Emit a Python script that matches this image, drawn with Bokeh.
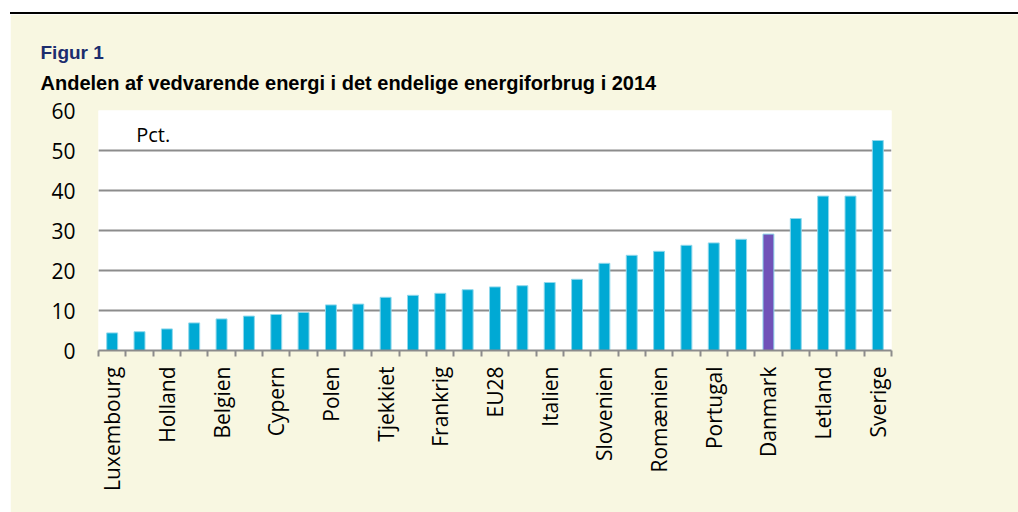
import math
from bokeh.plotting import figure
from bokeh.models import ColumnDataSource, FixedTicker, Label, Title, Div
from bokeh.layouts import column
from bokeh.embed import file_html
from bokeh.resources import INLINE

countries = ["Luxembourg", "Malta", "Holland", "Storbritannien", "Belgien", "Irland",
             "Cypern", "Ungarn", "Polen", "Slovakiet", "Tjekkiet", "Grækenland",
             "Frankrig", "Tyskland", "EU28", "Spanien", "Italien", "Bulgarien",
             "Slovenien", "Litauen", "Romænien", "Kroatien", "Portugal", "Estland",
             "Danmark", "Østrig", "Letland", "Finland", "Sverige"]
values = [4.4, 4.7, 5.4, 6.9, 7.9, 8.6, 9.0, 9.5, 11.4, 11.6, 13.3, 13.8,
          14.3, 15.2, 15.9, 16.2, 17.0, 17.8, 21.8, 23.8, 24.8, 26.3, 26.9,
          27.8, 29.1, 33.0, 38.6, 38.6, 52.5]
labeled = ["Luxembourg", "Holland", "Belgien", "Cypern", "Polen", "Tjekkiet",
           "Frankrig", "EU28", "Italien", "Slovenien", "Romænien", "Portugal",
           "Danmark", "Letland", "Sverige"]
highlight = "Danmark"
y_ticks = [0, 10, 20, 30, 40, 50, 60]

BLUE = "#00A9D4"
PURPLE = "#7052B8"
CREAM = "#F8F7E1"
GRID = "#8C8C8C"

xs = list(range(len(countries)))
colors = [PURPLE if c == highlight else BLUE for c in countries]
src = ColumnDataSource(dict(x=xs, top=values, name=countries, color=colors))

p = figure(width=1008, height=498, output_backend="svg", toolbar_location=None,
           x_range=(-0.5, len(countries) - 0.5), y_range=(0, 60),
           min_border_left=88, min_border_right=127, min_border_top=96,
           min_border_bottom=162)
p.margin = (0, 0, 0, 10)
p.background_fill_color = "white"
p.border_fill_color = CREAM
p.outline_line_color = None

p.vbar(x="x", top="top", width=0.4, bottom=0, source=src, fill_color="color",
       line_color="#8FD8EC", line_width=1)

# axes
xa = p.xaxis[0]
xa.ticker = FixedTicker(ticks=[i for i, c in enumerate(countries) if c in labeled],
                        minor_ticks=[i - 0.5 for i in range(len(countries) + 1)])
xa.major_label_overrides = {i: c for i, c in enumerate(countries) if c in labeled}
xa.major_label_orientation = math.pi / 2
xa.major_tick_line_color = None
xa.minor_tick_line_color = GRID
xa.minor_tick_line_width = 2
xa.minor_tick_out = 6
xa.minor_tick_in = 0
xa.axis_line_color = GRID
xa.axis_line_width = 2
xa.major_label_standoff = 10
xa.major_label_text_font = "Open Sans"
xa.major_label_text_font_size = "21px"
xa.major_label_text_color = "black"

ya = p.yaxis[0]
ya.ticker = FixedTicker(ticks=y_ticks)
ya.axis_line_color = None
ya.major_tick_line_color = None
ya.minor_tick_line_color = None
ya.major_label_standoff = 17
ya.major_label_text_font = "Open Sans"
ya.major_label_text_font_size = "21px"
ya.major_label_text_color = "black"

p.xgrid.grid_line_color = None
p.ygrid.grid_line_color = GRID
p.ygrid.grid_line_width = 2

# unit label
p.add_layout(Label(x=0.88, y=53.9, text="Pct.", text_font="Open Sans",
                   text_font_size="20px", text_baseline="middle", text_color="black"))

# titles (first added sits closest to the frame)
p.add_layout(Title(text="Andelen af vedvarende energi i det endelige energiforbrug i 2014",
                   align="left", offset=-58, standoff=33, text_font="Liberation Sans",
                   text_font_style="bold", text_font_size="20px", text_color="black"),
             "above")
p.add_layout(Title(text="Figur 1", align="left", offset=-58, standoff=-19,
                   text_font="Liberation Sans", text_font_style="bold",
                   text_font_size="19px", text_color="#1C2D6E"),
             "above")

spacer = Div(text="", width=1018, height=12, margin=(0, 0, 0, 0))
rule = Div(text="", width=1008, height=2, margin=(0, 0, 0, 10),
           styles={"background-color": "black"})

layout = column(spacer, rule, p, spacing=0)
open("out.html", "w").write(file_html(layout, INLINE))
